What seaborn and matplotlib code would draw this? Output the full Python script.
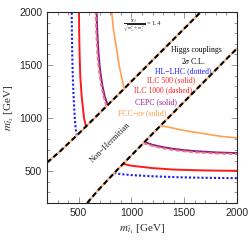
import matplotlib
matplotlib.use("Agg")
import matplotlib.pyplot as plt
import seaborn as sns
from matplotlib.ticker import MultipleLocator

# boundary of the non-Hermitian band (lower branch; upper branch is its mirror)
bound_m1 = [581, 680, 861, 1220, 1576, 1931, 2000]
bound_m2 = [200, 316, 508, 873, 1231, 1588, 1656]

# contours: m1 along the vertical branch vs m2 (horizontal branch is the mirror)
hl_m2 = [836, 900, 1000, 1200, 1400, 1600, 1800, 2000]
hl_m1 = [482, 472, 463, 452, 444, 439, 436, 434]
ilc500_m2 = [921, 1000, 1200, 1400, 1600, 1800, 2000]
ilc500_m1 = [569, 551, 529, 515, 509, 505, 503]
ilc1000_m2 = [1112, 1200, 1300, 1400, 1500, 1600, 1800, 2000]
ilc1000_m1 = [763, 737, 715, 699, 687, 678, 667, 661]
cepc_m2 = [1124, 1200, 1300, 1400, 1500, 1600, 1800, 2000]
cepc_m1 = [775, 748, 726, 710, 698, 689, 677, 670]
fcc_m2 = [1277, 1350, 1450, 1550, 1650, 1750, 1850, 2000]
fcc_m1 = [929, 915, 893, 874, 860, 843, 828, 813]

labels = ["Higgs couplings", r"2$\sigma$ C.L.", "HL\u2212LHC (dotted)", "ILC 500 (solid)",
          "ILC 1000 (dashed)", "CEPC (solid)", "FCC\u2212ee (solid)"]
label_colors = ["black", "black", "#1a1aff", "#ff2020", "#ff2020", "#9a1a9a", "#ff9a40"]

sns.set_style("ticks")
plt.rcParams["font.family"] = ["Liberation Serif", "DejaVu Serif"]
plt.rcParams["mathtext.fontset"] = "stix"

fig = plt.figure(figsize=(2.49, 2.40), dpi=100)
ax = fig.add_axes([47 / 249, 1 - 203 / 240, 190 / 249, 191 / 240])

curves = [
    (hl_m1, hl_m2, "#1a1aff", (0, (1, 1)), 1.5),
    (ilc500_m1, ilc500_m2, "#ff1a1a", "-", 1.4),
    (cepc_m1, cepc_m2, "#8b1a8b", "-", 1.4),
    (ilc1000_m1, ilc1000_m2, "#f07878", (0, (2.2, 1.2)), 1.4),
    (fcc_m1, fcc_m2, "#ffa050", "-", 1.2),
]
for m1, m2, col, ls, lw in curves:
    sns.lineplot(x=m1, y=m2, sort=False, estimator=None, color=col, linestyle=ls, lw=lw, ax=ax)
    sns.lineplot(x=m2, y=m1, sort=False, estimator=None, color=col, linestyle=ls, lw=lw, ax=ax)

# boundaries: peach underlay with black dashes on top
for bx, by in [(bound_m1, bound_m2), (bound_m2, bound_m1)]:
    sns.lineplot(x=bx, y=by, sort=False, estimator=None, color="#f4b183", lw=1.5, ax=ax)
    sns.lineplot(x=bx, y=by, sort=False, estimator=None, color="black", lw=1.5,
                 linestyle=(0, (2.5, 1.5)), ax=ax)

ax.set_xlim(200, 2000)
ax.set_ylim(200, 2000)
ax.xaxis.set_major_locator(MultipleLocator(500))
ax.yaxis.set_major_locator(MultipleLocator(500))
ax.xaxis.set_minor_locator(MultipleLocator(100))
ax.yaxis.set_minor_locator(MultipleLocator(100))
ax.tick_params(which="both", direction="in", top=True, right=True, color="#888888", width=0.6)
ax.tick_params(which="major", length=4)
ax.tick_params(which="minor", length=2)
for lab in ax.get_xticklabels() + ax.get_yticklabels():
    lab.set_fontfamily("Liberation Sans")
    lab.set_fontsize(7.5)
for sp in ax.spines.values():
    sp.set_linewidth(0.8)

ax.set_xlabel(r"$m_{\tilde{t}_1}$ [GeV]", fontsize=8, labelpad=3)
ax.set_ylabel(r"$m_{\tilde{t}_2}$ [GeV]", fontsize=8, labelpad=2)

ax.text(920, 1872, r"$\frac{|X_t|}{\sqrt{m^2_{\tilde{t}_1}+m^2_{\tilde{t}_2}}}$ = 1.4",
        fontsize=4.8, ha="left", va="center")

label_pos = [(1611, 1640), (1590, 1535), (1488, 1441), (1375, 1356),
             (1299, 1261), (1233, 1150), (1100, 1043)]
for (lx, ly), txt, col in zip(label_pos, labels, label_colors):
    ax.text(lx, ly, txt, color=col, fontsize=5.6, ha="center", va="center")

ax.text(797, 769, "Non\u2212Hermitian", fontsize=6, rotation=45, ha="center", va="center")

fig.savefig("out.png", dpi=100)
